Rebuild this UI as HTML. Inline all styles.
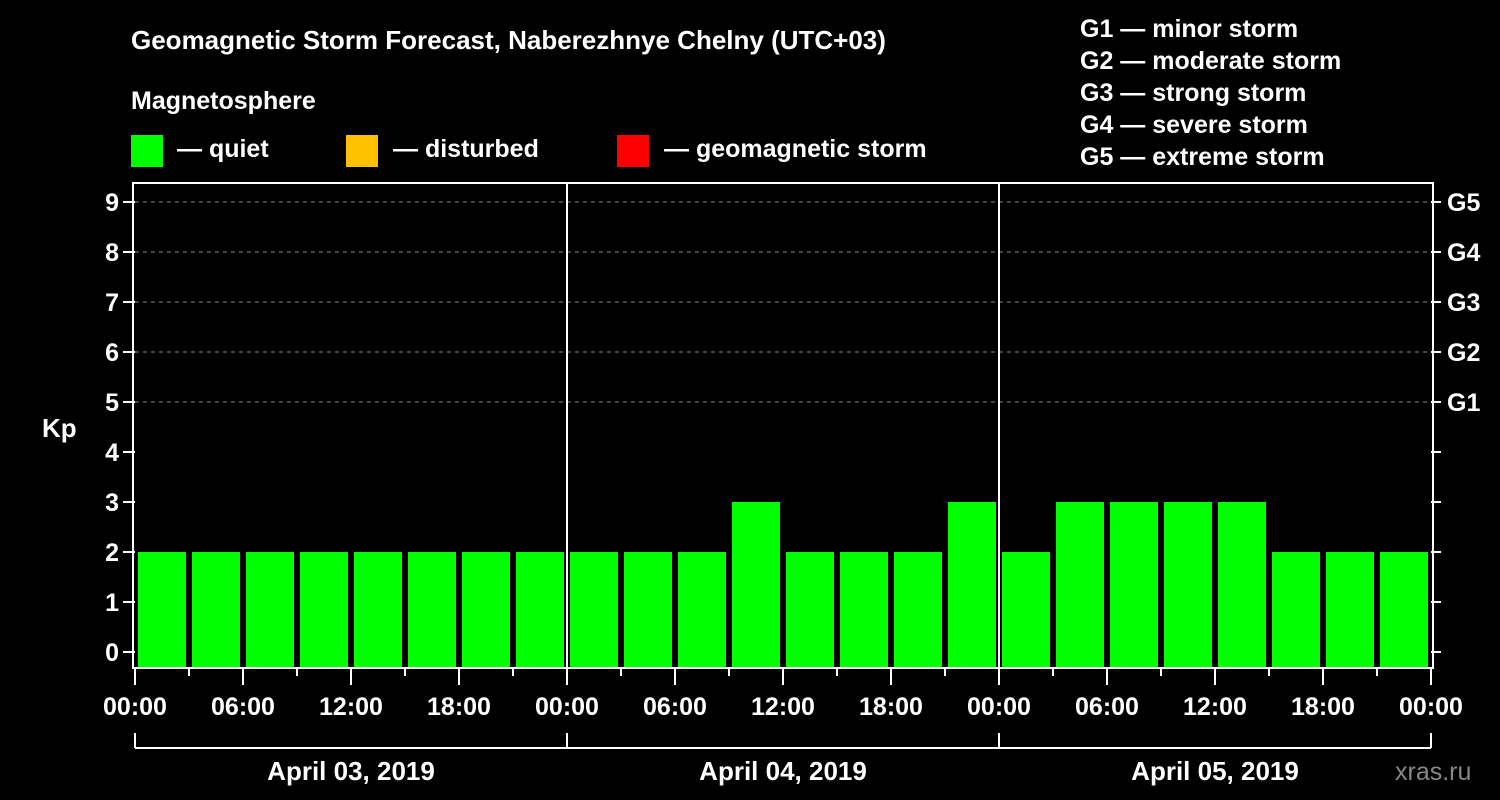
<!DOCTYPE html>
<html><head><meta charset="utf-8"><style>
body{margin:0;background:#000;}
svg{display:block;font-family:"Liberation Sans",Arial,sans-serif;font-weight:bold;}
</style></head><body>
<svg id="c" width="1500" height="800" viewBox="0 0 1500 800">
<rect width="1500" height="800" fill="#000"/>
<text x="131" y="49" fill="#fff" font-size="26">Geomagnetic Storm Forecast, Naberezhnye Chelny (UTC+03)</text>
<text x="131" y="109" fill="#fff" font-size="25">Magnetosphere</text>
<g>
<rect x="131" y="135" width="32" height="32" fill="#00ff00"/>
<text x="177" y="157" fill="#fff" font-size="25">— quiet</text>
<rect x="346" y="135" width="32" height="32" fill="#ffc000"/>
<text x="393" y="157" fill="#fff" font-size="25">— disturbed</text>
<rect x="617" y="135" width="32" height="32" fill="#ff0000"/>
<text x="664" y="157" fill="#fff" font-size="25">— geomagnetic storm</text>
</g>
<g fill="#fff" font-size="25">
<text x="1080" y="37">G1 — minor storm</text>
<text x="1080" y="69">G2 — moderate storm</text>
<text x="1080" y="101">G3 — strong storm</text>
<text x="1080" y="133">G4 — severe storm</text>
<text x="1080" y="165">G5 — extreme storm</text>
</g>
<text x="42" y="437" fill="#fff" font-size="26">Kp</text>
<text x="1395" y="780" fill="#888" font-size="25" font-weight="normal">xras.ru</text>
<g id="plot"></g>
</svg>
<script>
const kpValues=[2,2,2,2,2,2,2,2, 2,2,2,3,2,2,2,3, 2,3,3,3,3,2,2,2];
const yTicks=[0,1,2,3,4,5,6,7,8,9];
const gLabels=["G1","G2","G3","G4","G5"];
const xTickLabels=["00:00","06:00","12:00","18:00","00:00","06:00","12:00","18:00","00:00","06:00","12:00","18:00","00:00"];
const dayLabels=["April 03, 2019","April 04, 2019","April 05, 2019"];
const NS="http://www.w3.org/2000/svg";
const g=document.getElementById('plot');
const L=135,R=1431,T=183,B=668;
const slot=(R-L)/kpValues.length;
const y=v=>652-v*50;
const x=i=>L+i*slot;
function mk(t,a,parent){const e=document.createElementNS(NS,t);for(const k in a)e.setAttribute(k,a[k]);(parent||g).appendChild(e);return e;}
// grid
yTicks.forEach(v=>{
 if(v>=5){const e=mk('line',{x1:L,x2:R,y1:y(v),y2:y(v),stroke:'#888','stroke-dasharray':'4,4','stroke-width':1});
 
 }
 const t=mk('line',{x1:L-12,x2:L,y1:y(v),y2:y(v),stroke:'#fff','stroke-width':2});
 
 
 const t2=mk('line',{x1:R,x2:R+10,y1:y(v),y2:y(v),stroke:'#fff','stroke-width':2});
 
 
 const l=mk('text',{x:L-16,y:y(v)+9,fill:'#fff','font-size':25,'text-anchor':'end'});
 l.textContent=v;
 
 
});
gLabels.forEach((s,i)=>{
 const l=mk('text',{x:R+16,y:y(5+i)+9,fill:'#fff','font-size':25});
 l.textContent=s;
 
 
});
// bars
kpValues.forEach((v,i)=>{
 const c=v>=5?'#ff0000':(v>=4?'#ffc000':'#00ff00');
 const b=mk('rect',{x:x(i)+3,y:y(v),width:slot-6,height:B-1-y(v),fill:c});
 
 
});
// frame
const f=mk('rect',{x:L-2,y:T,width:R-L+4,height:B-T,fill:'none',stroke:'#fff','stroke-width':2});


for(let d=1;d<dayLabels.length;d++){
 const e=mk('line',{x1:x(d*8),x2:x(d*8),y1:T,y2:B,stroke:'#fff','stroke-width':2});
 
 
}
// x ticks
for(let i=0;i<=kpValues.length;i++){
 const major=i%2===0;
 const e=mk('line',{x1:x(i),x2:x(i),y1:B,y2:B+(major?17:8),stroke:'#fff','stroke-width':2});
 
 
}
xTickLabels.forEach((s,i)=>{
 const l=mk('text',{x:x(i*2),y:715,fill:'#fff','font-size':25,'text-anchor':'middle'});
 l.textContent=s;
 
 
});
// bracket
const br=mk('line',{x1:L,x2:R,y1:748,y2:748,stroke:'#fff','stroke-width':2});


for(let d=0;d<=dayLabels.length;d++){
 const e=mk('line',{x1:x(d*8),x2:x(d*8),y1:733,y2:748,stroke:'#fff','stroke-width':2});
 
 
}
dayLabels.forEach((s,d)=>{
 const l=mk('text',{x:x(d*8+4),y:780,fill:'#fff','font-size':26,'text-anchor':'middle'});
 l.textContent=s;
 
 
});
</script>
</body></html>
